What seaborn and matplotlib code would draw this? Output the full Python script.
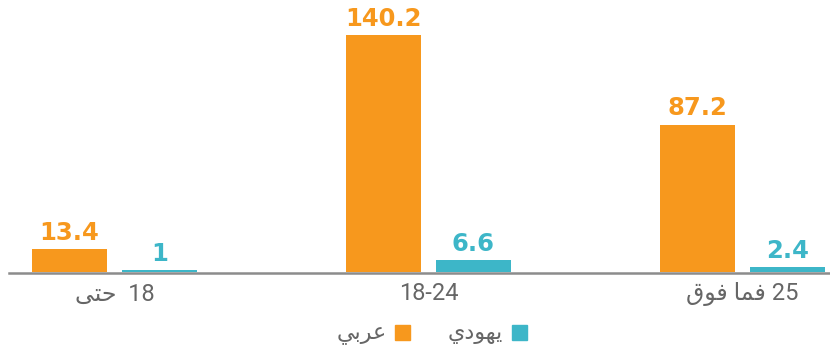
import matplotlib
matplotlib.use("Agg")
import matplotlib.pyplot as plt
from matplotlib.lines import Line2D
import seaborn as sns
import pandas as pd

# Age groups (Arabic strings stored in visual order with contextual glyph forms,
# since matplotlib does not shape right-to-left text)
categories = ["\uFEF0\uFE98\uFEA3  18", "18-24", "\uFED5\uFEEE\uFED3 \uFE8E\uFEE4\uFED3 25"]
series_names = ["\uFEF2\uFE91\uFEAE\uFECB", "\uFEF1\uFEA9\uFEEE\uFEEC\uFEF3"]  # Arab, Jewish
arab_values = [13.4, 140.2, 87.2]
jewish_values = [1, 6.6, 2.4]

orange = "#F7981D"
teal = "#3DB6C8"
grey_text = "#666666"

df = pd.DataFrame({
    "group": categories * 2,
    "series": [series_names[0]] * 3 + [series_names[1]] * 3,
    "value": arab_values + jewish_values,
})

sns.set_theme(style="white")
plt.rcParams["font.family"] = ["Roboto", "DejaVu Sans"]

fig = plt.figure(figsize=(8.3, 3.52), dpi=100)
ax = fig.add_axes([9 / 830, (352 - 271.5) / 352, 1 - 9 / 830, 271.5 / 352])

sns.barplot(
    data=df, x="group", y="value", hue="series",
    hue_order=series_names, order=categories,
    palette=[orange, teal], saturation=1, linewidth=0,
    width=0.573, gap=0.1665, legend=False, ax=ax,
)

ax.set_xlim(-0.336, 2.279)
ax.set_ylim(0, 271.5 / 1.685)

for container, color in zip(ax.containers, [orange, teal]):
    ax.bar_label(container, fmt="{:g}", padding=3, color=color,
                 fontsize=17.5, fontweight="bold", family=["DejaVu Sans"])

for side in ["top", "left", "right"]:
    ax.spines[side].set_visible(False)
ax.spines["bottom"].set_color("#8C8C8C")
ax.spines["bottom"].set_linewidth(1.8)
ax.spines["bottom"].set_position(("outward", 0.9))

ax.set_yticks([])
ax.set_xlabel("")
ax.set_ylabel("")
ax.tick_params(axis="x", length=0, pad=7, labelsize=17, labelcolor=grey_text)

handles = [Line2D([], [], marker="s", linestyle="", color=c, markersize=10.8)
           for c in [orange, teal]]
fig.legend(handles, series_names, loc="center", bbox_to_anchor=(0.52, 0.05),
           ncol=2, frameon=False, markerfirst=False, handlelength=0.7,
           handletextpad=0.35, columnspacing=1.7,
           prop={"size": 16}, labelcolor=grey_text)

fig.savefig("out.png", dpi=100)
